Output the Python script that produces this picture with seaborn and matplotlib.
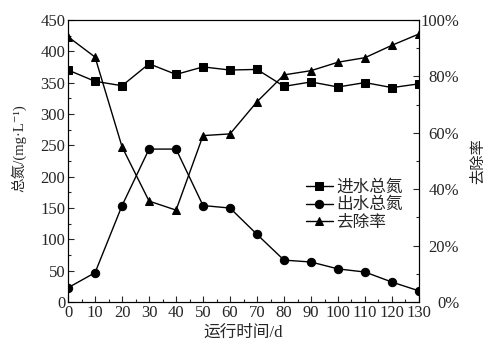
import numpy as np
import pandas as pd
import seaborn as sns
import matplotlib.pyplot as plt
from matplotlib.ticker import MultipleLocator, PercentFormatter

# Data
days = [0, 10, 20, 30, 40, 50, 60, 70, 80, 90, 100, 110, 120, 130]
tn_in = [370, 352, 345, 380, 363, 375, 370, 371, 344, 351, 343, 350, 342, 348]
tn_out = [23, 47, 154, 244, 244, 154, 150, 108, 67, 64, 53, 48, 32, 18]
removal = [94.0, 86.8, 55.0, 35.8, 32.6, 59.0, 59.6, 71.0, 80.5, 82.0, 85.0, 86.6, 91.0, 95.0]

sns.set_style("ticks")
plt.rcParams['font.family'] = ['Liberation Serif', 'Noto Sans CJK SC', 'DejaVu Serif']
plt.rcParams['font.size'] = 12
plt.rcParams['axes.unicode_minus'] = False
plt.rcParams['xtick.direction'] = 'in'
plt.rcParams['ytick.direction'] = 'in'

df = pd.DataFrame({'day': days, 'in': tn_in, 'out': tn_out, 'rem': removal})

fig = plt.figure(figsize=(4.97, 3.61), dpi=100)
ax = fig.add_axes([0.137, 0.163, 0.706, 0.782])

kw = dict(color='black', linewidth=1.0, markersize=6, markeredgecolor='black')
sns.lineplot(data=df, x='day', y='in', marker='s', ax=ax, label='进水总氮', **kw)
sns.lineplot(data=df, x='day', y='out', marker='o', ax=ax, label='出水总氮', **kw)

ax2 = ax.twinx()
sns.lineplot(data=df, x='day', y='rem', marker='^', ax=ax2, label='去除率', **kw)

ax.set_xlim(0, 130)
ax.set_ylim(0, 450)
ax2.set_ylim(0, 100)
ax.xaxis.set_major_locator(MultipleLocator(10))
ax.xaxis.set_minor_locator(MultipleLocator(5))
ax.yaxis.set_major_locator(MultipleLocator(50))
ax.yaxis.set_minor_locator(MultipleLocator(25))
ax2.yaxis.set_major_locator(MultipleLocator(20))
ax2.yaxis.set_minor_locator(MultipleLocator(10))
ax2.yaxis.set_major_formatter(PercentFormatter(decimals=0))

for a in (ax, ax2):
    a.tick_params(which='major', length=4, width=0.8, labelsize=12, pad=2)
    a.tick_params(which='minor', length=2, width=0.8)
    for s in a.spines.values():
        s.set_linewidth(0.8)
        s.set_color('black')

# right-hand percent labels are right-aligned in the reference
ax2.tick_params(axis='y', which='major', pad=29)
for lab in ax2.get_yticklabels():
    lab.set_horizontalalignment('right')

ax.set_xlabel('运行时间/d', fontsize=12, labelpad=3)
ax.set_ylabel('总氮/(mg·L⁻¹)', fontsize=10.5)
ax.yaxis.set_label_coords(-0.12, 0.545)
ax2.set_ylabel('去除率', fontsize=11, labelpad=8)

h1, l1 = ax.get_legend_handles_labels()
h2, l2 = ax2.get_legend_handles_labels()
if ax.get_legend():
    ax.get_legend().remove()
if ax2.get_legend():
    ax2.get_legend().remove()
ax2.legend(h1 + h2, l1 + l2, loc='upper left', bbox_to_anchor=(0.645, 0.475),
           frameon=False, fontsize=12, handlelength=1.6, handletextpad=0.2,
           labelspacing=0.1, borderpad=0.2)

fig.savefig('out.png', dpi=100)
